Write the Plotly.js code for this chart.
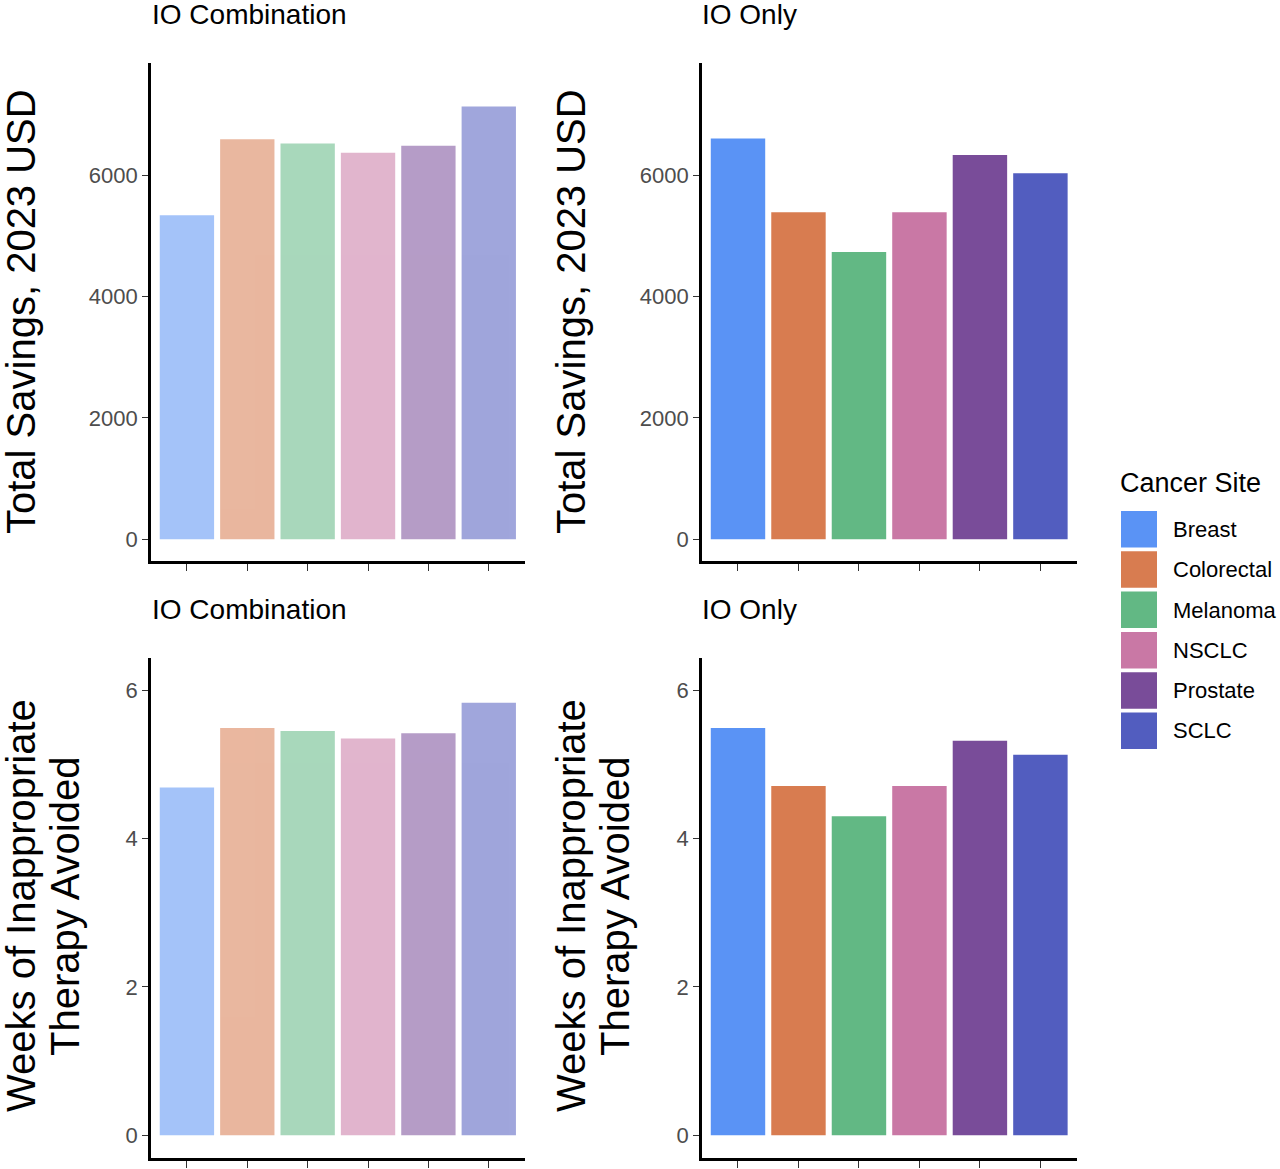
<!DOCTYPE html>
<html>
<head>
<meta charset="utf-8">
<script src="https://cdn.plot.ly/plotly-3.0.1.min.js"></script>
<style>html,body{margin:0;padding:0;background:#fff;}#chart{width:1280px;height:1169px;}</style>
</head>
<body>
<div id="chart"></div>
<script>
// ---- Data ----
const categories = ["Breast", "Colorectal", "Melanoma", "NSCLC", "Prostate", "SCLC"];
const savingsCombination = [5340, 6595, 6525, 6370, 6485, 7135];
const savingsOnly = [6605, 5390, 4735, 5390, 6335, 6035];
const weeksCombination = [4.69, 5.49, 5.45, 5.35, 5.42, 5.83];
const weeksOnly = [5.49, 4.71, 4.30, 4.71, 5.32, 5.13];
const panelTitles = ["IO Combination", "IO Only"];
const yTitleSavings = "Total Savings, 2023 USD";
const yTitleWeeks = ["Weeks of Inappropriate", "Therapy Avoided"];
const legendTitle = "Cancer Site";
const savingsTicks = [0, 2000, 4000, 6000];
const weeksTicks = [0, 2, 4, 6];

// ---- Styles ----
const colors = ["#5A93F5", "#D87C50", "#62B884", "#C978A5", "#794C99", "#525DBF"];
const FONT = "Liberation Sans, Arial, Helvetica, sans-serif";
const W = 1280, H = 1169;
const px = v => v / W;
const py = v => 1 - v / H;

function bar(y, xa, ya, faded) {
  return {
    type: "bar", x: categories, y: y, xaxis: xa, yaxis: ya,
    marker: {color: colors, line: {width: 0}},
    opacity: faded ? 0.55 : 1,
    showlegend: false, hoverinfo: "x+y"
  };
}

const data = [
  bar(savingsCombination, "x", "y", true),
  bar(savingsOnly, "x2", "y2", false),
  bar(weeksCombination, "x3", "y3", true),
  bar(weeksOnly, "x4", "y4", false)
];

function xAxis(domain, anchor) {
  return {
    domain: domain, anchor: anchor, type: "category",
    range: [-0.6, 5.6], showline: true, linecolor: "#000", linewidth: 2.5,
    ticks: "outside", ticklen: 7, tickwidth: 1, tickcolor: "#333",
    showticklabels: false, showgrid: false, zeroline: false, fixedrange: true
  };
}
function yAxis(domain, anchor, range, ticks) {
  return {
    domain: domain, anchor: anchor, range: range,
    tickvals: ticks, ticktext: ticks.map(String),
    showline: true, linecolor: "#000", linewidth: 2.5,
    ticks: "outside", ticklen: 6, tickwidth: 1, tickcolor: "#333",
    tickfont: {family: FONT, size: 22, color: "#4D4D4D"},
    showgrid: false, zeroline: false, fixedrange: true
  };
}

const xL = [px(150.7), px(525)], xR = [px(701.7), px(1076.7)];
const yT = [py(561), py(63)], yB = [py(1158.3), py(658.3)];
const savRange = [-357, 7850], wkRange = [-0.31, 6.43];

const annotations = [];
function addText(text, x, y, size, opts) {
  annotations.push(Object.assign({
    text: text, xref: "paper", yref: "paper", x: px(x), y: py(y),
    showarrow: false, font: {family: FONT, size: size, color: "#000"},
    xanchor: "left", yanchor: "middle", borderpad: 0
  }, opts || {}));
}
// panel titles
addText(panelTitles[0], 151, 15, 28);
addText(panelTitles[1], 701, 15, 28);
addText(panelTitles[0], 151, 609, 28);
addText(panelTitles[1], 701, 609, 28);
// y titles
addText(yTitleSavings, 21, 312, 40, {textangle: -90, xanchor: "center"});
addText(yTitleSavings, 571, 312, 40, {textangle: -90, xanchor: "center"});
addText(yTitleWeeks[0], 21, 906, 40, {textangle: -90, xanchor: "center"});
addText(yTitleWeeks[1], 65, 907, 40, {textangle: -90, xanchor: "center"});
addText(yTitleWeeks[0], 571, 906, 40, {textangle: -90, xanchor: "center"});
addText(yTitleWeeks[1], 615, 907, 40, {textangle: -90, xanchor: "center"});
// legend
addText(legendTitle, 1119, 483, 27);
const shapes = [];
categories.forEach((c, i) => {
  const top = 511 + 40.3 * i;
  shapes.push({
    type: "rect", xref: "paper", yref: "paper",
    x0: px(1121), x1: px(1157), y0: py(top + 36.5), y1: py(top),
    fillcolor: colors[i], line: {width: 0}
  });
  addText(c, 1172, top + 18.5, 22);
});

const layout = {
  width: W, height: H,
  margin: {l: 0, r: 0, t: 0, b: 0},
  paper_bgcolor: "#fff", plot_bgcolor: "#fff",
  bargap: 0.1,
  font: {family: FONT},
  showlegend: false,
  xaxis: xAxis(xL, "y"), yaxis: yAxis(yT, "x", savRange, savingsTicks),
  xaxis2: xAxis(xR, "y2"), yaxis2: yAxis(yT, "x2", savRange, savingsTicks),
  xaxis3: xAxis(xL, "y3"), yaxis3: yAxis(yB, "x3", wkRange, weeksTicks),
  xaxis4: xAxis(xR, "y4"), yaxis4: yAxis(yB, "x4", wkRange, weeksTicks),
  annotations: annotations,
  shapes: shapes
};

Plotly.newPlot("chart", data, layout, {staticPlot: true, displayModeBar: false});
</script>
</body>
</html>
